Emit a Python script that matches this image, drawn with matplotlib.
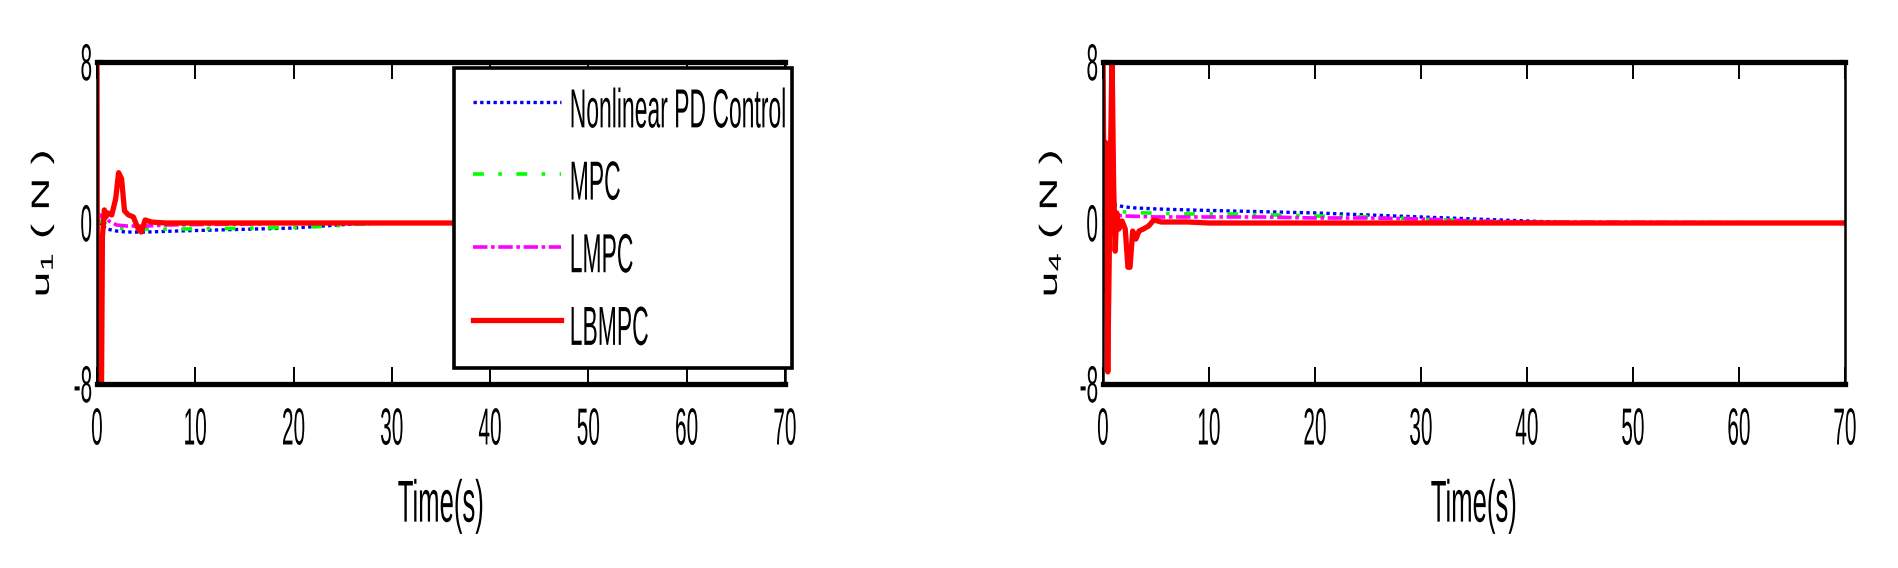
import matplotlib
matplotlib.use("Agg")
import matplotlib.pyplot as plt
from matplotlib.patheffects import AbstractPathEffect
from matplotlib.transforms import Affine2D

# ---- data ----
u1_pd_t = [0, 0.5, 1, 2, 3, 5, 8, 12, 16, 20, 23, 26, 30, 70]
u1_pd = [0, -0.1, -0.3, -0.4, -0.45, -0.45, -0.4, -0.35, -0.3, -0.25, -0.15, -0.05, 0, 0]
u1_mpc_t = [0, 0.5, 1, 2, 4, 8, 12, 16, 20, 24, 28, 70]
u1_mpc = [0, 0.1, -0.1, -0.25, -0.3, -0.3, -0.28, -0.25, -0.22, -0.15, 0, 0]
u1_lmpc_t = [0, 0.3, 0.8, 1.2, 2, 3, 5, 7, 10, 15, 20, 70]
u1_lmpc = [0, 0.4, 0.3, 0.1, -0.1, -0.15, -0.15, -0.1, -0.08, -0.05, 0, 0]
u1_lbmpc_t = [0, 0.05, 0.45, 0.55, 0.75, 0.9, 1.1, 1.5, 1.9, 2.2, 2.5, 2.8, 3.2,
              3.7, 4.2, 4.5, 4.9, 5.5, 7, 10, 20, 30, 40, 50, 60, 70]
u1_lbmpc = [9, -9, -9, -0.7, 0.65, 0.3, 0.5, 0.4, 1.2, 2.5, 2.2, 0.6, 0.4,
            0.3, -0.3, -0.45, 0.15, 0.05, 0, 0, 0, 0, 0, 0, 0, 0]

u4_pd_t = [0, 0.5, 1.2, 2, 3, 5, 8, 12, 16, 20, 25, 30, 35, 40, 45, 70]
u4_pd = [0, 0.5, 0.9, 0.8, 0.75, 0.7, 0.65, 0.6, 0.55, 0.5, 0.4, 0.3, 0.2, 0.1, 0, 0]
u4_mpc_t = [0, 1, 2, 4, 8, 12, 16, 20, 25, 30, 35, 40, 70]
u4_mpc = [0, 0.6, 0.55, 0.5, 0.45, 0.45, 0.4, 0.35, 0.3, 0.2, 0.1, 0, 0]
u4_lmpc_t = [0, 1, 2, 5, 10, 15, 20, 25, 30, 35, 40, 70]
u4_lmpc = [0, 0.4, 0.35, 0.3, 0.3, 0.3, 0.25, 0.25, 0.2, 0.1, 0.05, 0]
u4_lbmpc_t = [0, 0.15, 0.25, 0.45, 0.7, 0.85, 1.0, 1.15, 1.3, 1.5, 1.8, 2.1, 2.35,
              2.55, 2.8, 3.1, 3.4, 3.8, 4.3, 4.8, 5.5, 8, 10, 20, 30, 40, 50, 60, 70]
u4_lbmpc = [8.5, -3.3, 4, -7.4, 3, 8.5, 2.0, -1.4, 0.5, -0.3, 0.1, -0.3, -2.2,
            -2.2, -0.4, -0.8, -0.4, -0.3, -0.15, 0.15, 0.05, 0.05, 0, 0, 0, 0, 0, 0, 0]

labels = ["Nonlinear PD Control", "MPC", "LMPC", "LBMPC"]
xticks = [0, 10, 20, 30, 40, 50, 60, 70]
yticks = [-8, 0, 8]
ytick_labels = ["-8", "0", "8"]


class Stretch(AbstractPathEffect):
    """stretch text vertically about its own centre (the source image is squashed)"""
    def __init__(self, sy):
        super().__init__()
        self.sy = sy

    def draw_path(self, renderer, gc, tpath, affine, rgbFace=None):
        ext = tpath.get_extents(affine)
        cx, cy = (ext.x0 + ext.x1) / 2, (ext.y0 + ext.y1) / 2
        tr = affine + Affine2D().translate(-cx, -cy).scale(1, self.sy).translate(cx, cy)
        renderer.draw_path(gc, tpath, tr, rgbFace)


plt.rcParams['font.family'] = ['Liberation Sans', 'DejaVu Sans']
plt.rcParams['mathtext.fontset'] = 'custom'
plt.rcParams['mathtext.rm'] = 'Liberation Sans'
plt.rcParams['mathtext.it'] = 'Liberation Sans:italic'

W, H = 1899, 568
fig = plt.figure(figsize=(W / 100, H / 100), dpi=100)
ax1 = fig.add_axes([97 / W, 1 - 384 / H, 688 / W, 322 / H])
ax2 = fig.add_axes([1103 / W, 1 - 384 / H, 742 / W, 322 / H])


def draw(ax, pd_t, pd, mpc_t, mpc, lmpc_t, lmpc, lb_t, lb):
    ax.plot(pd_t, pd, color='#0000ff', lw=2.4, ls=(0, (1, 1)), label=labels[0])
    ax.plot(mpc_t, mpc, color='#00ff00', lw=2.6, ls=(0, (3, 4, 1, 4)), label=labels[1])
    ax.plot(lmpc_t, lmpc, color='#ff00ff', lw=2.6, ls=(0, (4, 1, 1, 1)), label=labels[2])
    ax.plot(lb_t, lb, color='#ff0000', lw=3.8, label=labels[3])


def style(ax, ylab, ylab_x):
    ax.set_xlim(0, 70)
    ax.set_ylim(-8, 8)
    ax.set_xticks(xticks)
    ax.set_yticks(yticks, labels=ytick_labels)
    ax.tick_params(axis='x', direction='in', length=12, width=1.4, top=True,
                   pad=25, labelsize=15)
    ax.tick_params(axis='y', direction='in', length=4, width=3, right=True,
                   pad=3.5, labelsize=15)
    for s in ['top', 'bottom']:
        ax.spines[s].set_linewidth(3.8)
    for s in ['left', 'right']:
        ax.spines[s].set_linewidth(1.8)
    ax.set_xlabel('Time(s)', fontsize=18.5, va='center')
    ax.xaxis.set_label_coords(0.5, (384 - 506) / 322)
    ax.set_ylabel(ylab, fontsize=18, va='center')
    ax.yaxis.set_label_coords(ylab_x, 0.5)


draw(ax1, u1_pd_t, u1_pd, u1_mpc_t, u1_mpc, u1_lmpc_t, u1_lmpc, u1_lbmpc_t, u1_lbmpc)
draw(ax2, u4_pd_t, u4_pd, u4_mpc_t, u4_mpc, u4_lmpc_t, u4_lmpc, u4_lbmpc_t, u4_lbmpc)
style(ax1, r'u$_1$ ( N )', -55 / 688)
style(ax2, r'u$_4$ ( N )', -53 / 742)

leg = ax1.legend(loc='upper left', bbox_to_anchor=(454 / W, 1 - 372 / H, 338 / W, 304 / H),
                 bbox_transform=fig.transFigure, mode='expand', fontsize=16.5,
                 handlelength=3.8, handleheight=2.5, handletextpad=0.4,
                 labelspacing=1.3, borderpad=0.85, borderaxespad=0,
                 fancybox=False, framealpha=1, edgecolor='black')
leg.get_frame().set_linewidth(2.6)

fig.canvas.draw()
for ax in (ax1, ax2):
    for t in ax.get_xticklabels() + ax.get_yticklabels():
        t.set_path_effects([Stretch(2.5)])
    ax.xaxis.label.set_path_effects([Stretch(2.3)])
    ax.yaxis.label.set_path_effects([Stretch(1.85)])
for t in leg.get_texts():
    t.set_path_effects([Stretch(2.4)])

fig.savefig('out.png', dpi=100)
